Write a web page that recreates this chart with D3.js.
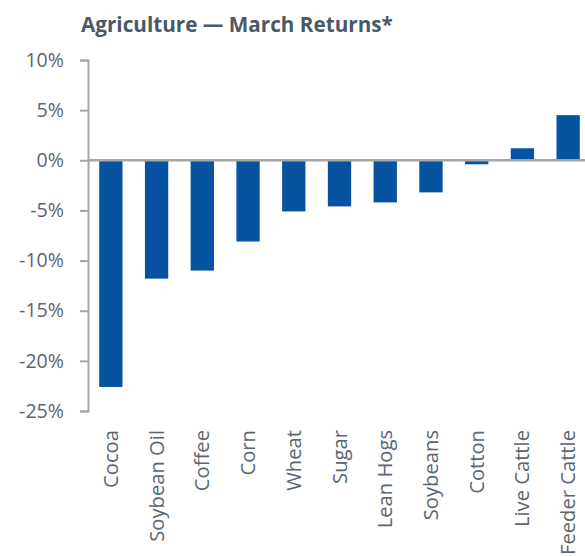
<!DOCTYPE html>
<html>
<head>
<meta charset="utf-8">
<script src="https://cdn.jsdelivr.net/npm/d3@7"></script>
<style>
  body { margin: 0; background: #fff; }
  svg { display: block; }
</style>
</head>
<body>
<div id="chart"></div>
<script>
// categories and March returns (%)
var categories = ["Cocoa", "Soybean Oil", "Coffee", "Corn", "Wheat", "Sugar",
                  "Lean Hogs", "Soybeans", "Cotton", "Live Cattle", "Feeder Cattle"];
var returns = [-22.6, -11.8, -11.0, -8.1, -5.1, -4.6, -4.2, -3.2, -0.4, 1.2, 4.5];
var yTicks = [10, 5, 0, -5, -10, -15, -20, -25];

var width = 585, height = 556;
// plot runs a little past the right edge, as in the original
var margin = { top: 60, right: -6, bottom: 145, left: 88 };

var svg = d3.select("#chart").append("svg")
    .attr("width", width)
    .attr("height", height);

// title
svg.append("text")
    .attr("x", 81)
    .attr("y", 32)
    .attr("font-family", "'Open Sans', sans-serif")
    .attr("font-weight", "bold")
    .attr("font-size", "20.7px")
    .attr("fill", "#4b5866")
    .text("Agriculture \u2014 March Returns*");

var x = d3.scaleBand()
    .domain(categories)
    .range([margin.left, width - margin.right])
    .paddingInner(0.49)
    .paddingOuter(0.245);

var y = d3.scaleLinear()
    .domain([-25, 10])
    .range([411, 60]);

var data = categories.map(function (c, i) { return { name: c, value: returns[i] }; });

// bars
svg.selectAll("rect.bar")
    .data(data)
    .enter()
    .append("rect")
    .attr("class", "bar")
    .attr("x", function (d) { return x(d.name); })
    .attr("width", x.bandwidth())
    .attr("y", function (d) { return y(Math.max(0, d.value)); })
    .attr("height", function (d) { return Math.abs(y(d.value) - y(0)); })
    .attr("fill", "#0752a1");

// y axis
var yAxis = svg.append("g")
    .attr("transform", "translate(" + margin.left + ",0)")
    .call(d3.axisLeft(y).tickValues(yTicks).tickSize(8).tickPadding(16)
        .tickFormat(function (d) { return d + "%"; }));
yAxis.select(".domain").attr("stroke", "#a6a6a6").attr("stroke-width", 2);
yAxis.selectAll(".tick line").attr("stroke", "#a6a6a6").attr("stroke-width", 2);
yAxis.selectAll(".tick text")
    .attr("font-family", "'Open Sans', sans-serif")
    .attr("font-size", "19.6px")
    .attr("fill", "#5b6672");

// zero line
svg.append("line")
    .attr("x1", margin.left)
    .attr("x2", width)
    .attr("y1", y(0))
    .attr("y2", y(0))
    .attr("stroke", "#a6a6a6")
    .attr("stroke-width", 2.5);

// category labels, rotated
var xAxis = svg.append("g")
    .attr("transform", "translate(0,420)")
    .call(d3.axisBottom(x).tickSize(0).tickPadding(0));
xAxis.select(".domain").remove();
xAxis.selectAll(".tick text")
    .attr("transform", "rotate(-90)")
    .attr("x", -10)
    .attr("y", 0)
    .attr("dy", "0.35em")
    .attr("text-anchor", "end")
    .attr("font-family", "'Open Sans', sans-serif")
    .attr("font-size", "20.2px")
    .attr("fill", "#5b6672");
</script>
</body>
</html>
